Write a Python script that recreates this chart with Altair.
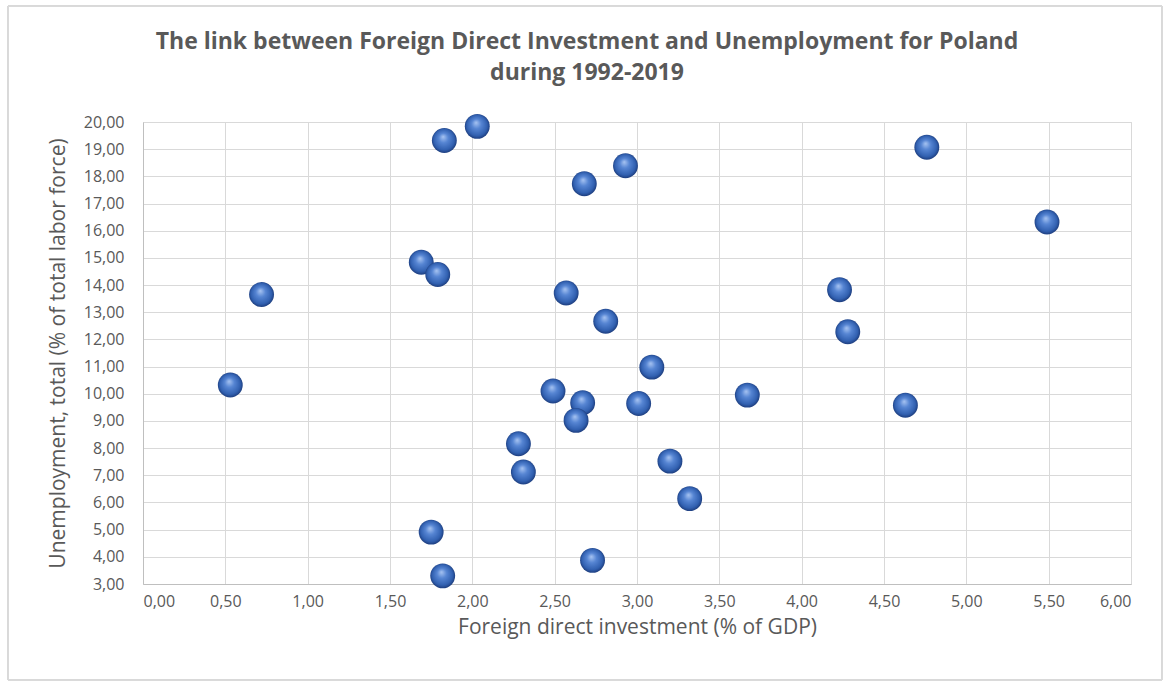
import altair as alt
import pandas as pd

fdi = [1.83, 1.69, 1.79, 0.72, 2.03, 2.93, 2.68, 2.57, 2.81,
       4.76, 5.49, 4.23, 4.28, 0.53, 1.75, 1.82,
       3.09, 2.49, 2.67, 3.01, 3.67, 2.63, 2.28, 2.31, 3.20, 3.32, 2.73, 4.63]
unemp = [19.32, 14.84, 14.39, 13.65, 19.84, 18.39, 17.73, 13.71, 12.67,
         19.07, 16.32, 13.83, 12.28, 10.32, 4.91, 3.30,
         10.98, 10.10, 9.67, 9.64, 9.95, 9.02, 8.16, 7.12, 7.52, 6.14, 3.87, 9.58]

x_ticks = [0, 0.5, 1, 1.5, 2, 2.5, 3, 3.5, 4, 4.5, 5, 5.5, 6]
y_ticks = list(range(3, 21))

title_lines = ["The link between Foreign Direct Investment and Unemployment for Poland",
               "during 1992-2019"]
x_title = "Foreign direct investment (% of GDP)"
y_title = "Unemployment, total (% of total labor force)"

df = pd.DataFrame({"fdi": fdi, "unemp": unemp})
title_df = pd.DataFrame({"line": title_lines, "row": [0, 1]})

label_expr = "replace(format(datum.value, '.2f'), '.', ',')"
FONT = "Open Sans"
GRAY = "#595959"

sphere = alt.RadialGradient(
    gradient="radial",
    stops=[
        alt.GradientStop(offset=0, color="#a8c4f2"),
        alt.GradientStop(offset=0.35, color="#5685d3"),
        alt.GradientStop(offset=0.75, color="#3160b0"),
        alt.GradientStop(offset=1, color="#16306a"),
    ],
    x1=0.45, y1=0.35, r1=0, x2=0.5, y2=0.5, r2=0.55,
)

points = alt.Chart(df).mark_circle(size=620, opacity=1, color=sphere).encode(
    x=alt.X("fdi:Q",
            scale=alt.Scale(domain=[0, 6], nice=False, zero=False),
            axis=alt.Axis(values=x_ticks, labelExpr=label_expr, title=x_title,
                          ticks=False, labelPadding=9, titlePadding=7,
                          grid=True)),
    y=alt.Y("unemp:Q",
            scale=alt.Scale(domain=[3, 20], nice=False, zero=False),
            axis=alt.Axis(values=y_ticks, labelExpr=label_expr, title=y_title,
                          ticks=False, labelPadding=19, titlePadding=15,
                          grid=True)),
)

border = alt.Chart(df).mark_rect(fill=None, stroke="#d9d9d9", strokeWidth=1).encode(
    x=alt.value(-135), x2=alt.value(1019),
    y=alt.value(-116), y2=alt.value(558),
)

title = alt.Chart(title_df).mark_text(
    font=FONT, fontSize=23, fontWeight="bold", color=GRAY, baseline="middle", align="center"
).encode(
    text="line:N",
    x=alt.value(444),
    y=alt.Y("row:Q", scale=alt.Scale(domain=[0, 1], range=[-80, -49]), axis=None),
)

chart = alt.layer(border, title, points).resolve_scale(y="independent").properties(
    width=988,
    height=462,
    autosize=alt.AutoSizeParams(type="none"),
    padding={"left": 143, "top": 122, "right": 40, "bottom": 104},
    background="white",
).configure_axis(
    labelFont=FONT, labelFontSize=16, labelColor=GRAY,
    titleFont=FONT, titleFontSize=21, titleColor=GRAY, titleFontWeight="normal",
    gridColor="#d9d9d9", domainColor="#bfbfbf", domainWidth=1,
).configure_view(
    stroke="#d9d9d9"
)

chart.save("out.html", embed_options={"renderer": "svg", "actions": False})
